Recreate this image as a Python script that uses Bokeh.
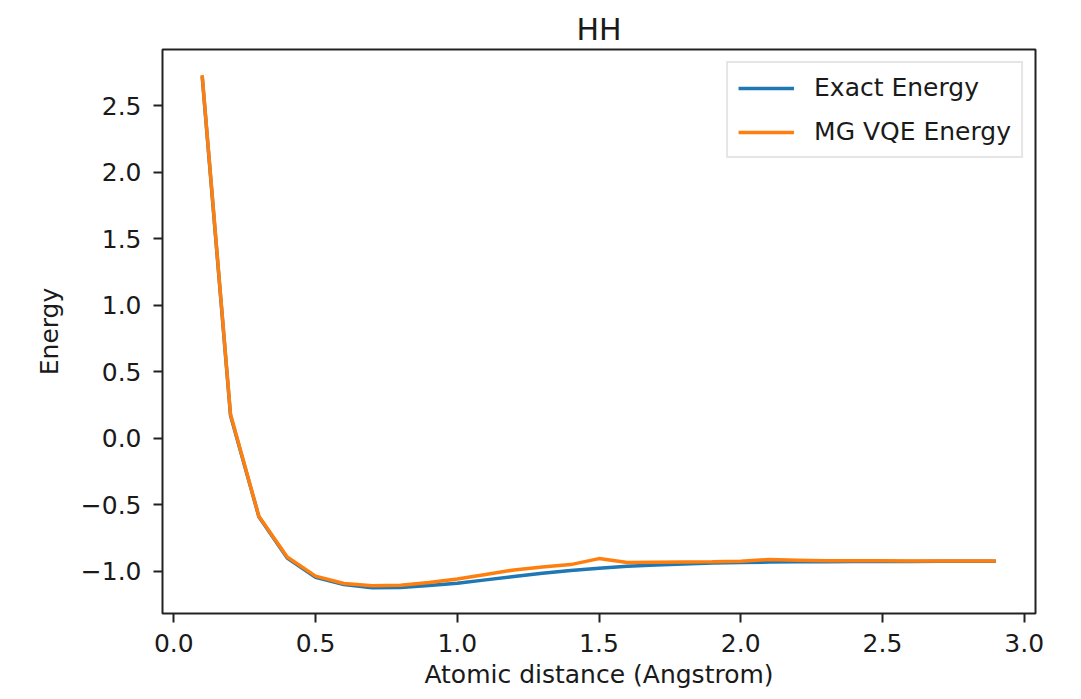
from bokeh.plotting import figure
from bokeh.embed import file_html
from bokeh.resources import INLINE
from bokeh.models import FixedTicker, CustomJSTickFormatter, Range1d

# Data
distance = [0.1, 0.2, 0.3, 0.4, 0.5, 0.6, 0.7, 0.8, 0.9, 1.0,
            1.1, 1.2, 1.3, 1.4, 1.5, 1.6, 1.7, 1.8, 1.9, 2.0,
            2.1, 2.2, 2.3, 2.4, 2.5, 2.6, 2.7, 2.8, 2.9]
exact_energy = [2.72, 0.17, -0.59, -0.90, -1.045, -1.10, -1.125, -1.122, -1.108, -1.09,
                -1.065, -1.04, -1.015, -0.995, -0.978, -0.963, -0.953, -0.945, -0.938, -0.934,
                -0.931, -0.929, -0.928, -0.927, -0.926, -0.926, -0.925, -0.925, -0.925]
vqe_energy = [2.73, 0.18, -0.587, -0.893, -1.037, -1.092, -1.11, -1.105, -1.085, -1.058,
              -1.025, -0.99, -0.968, -0.95, -0.905, -0.935, -0.932, -0.93, -0.928, -0.925,
              -0.912, -0.917, -0.922, -0.922, -0.922, -0.923, -0.923, -0.923, -0.923]
x_ticks = [0.0, 0.5, 1.0, 1.5, 2.0, 2.5, 3.0]
y_ticks = [-1.0, -0.5, 0.0, 0.5, 1.0, 1.5, 2.0, 2.5]
title_text = "HH"
x_label = "Atomic distance (Angstrom)"
y_label = "Energy"
series_names = ["Exact Energy", "MG VQE Energy"]

xmin, xmax = min(distance), max(distance)
ymin = min(min(exact_energy), min(vqe_energy))
ymax = max(max(exact_energy), max(vqe_energy))
xm = (xmax - xmin) * 0.05
ym = (ymax - ymin) * 0.05

FONT = "DejaVu Sans"
TXT = "#1a1a1a"

p = figure(width=1073, height=691, output_backend="svg", toolbar_location=None,
           x_range=Range1d(xmin - xm, xmax + xm), y_range=Range1d(ymin - ym, ymax + ym),
           min_border_left=162, min_border_right=38, min_border_top=49, min_border_bottom=74)

p.line(distance, exact_energy, line_color="#1f77b4", line_width=3.5, legend_label=series_names[0])
p.line(distance, vqe_energy, line_color="#ff7f0e", line_width=3.5, legend_label=series_names[1])

p.title.text = title_text
p.title.align = "center"
p.title.text_font = FONT
p.title.text_font_size = "30px"
p.title.text_font_style = "normal"
p.title.text_color = TXT
p.title.standoff = 6

p.xgrid.visible = False
p.ygrid.visible = False
p.outline_line_color = "#222222"
p.outline_line_width = 2
p.outline_line_alpha = 1.0

fmt = CustomJSTickFormatter(code="return tick.toFixed(1).replace('-', '\u2212');")
p.xaxis.ticker = FixedTicker(ticks=x_ticks)
p.yaxis.ticker = FixedTicker(ticks=y_ticks)
p.xaxis.formatter = fmt
p.yaxis.formatter = fmt
p.xaxis.axis_label = x_label
p.yaxis.axis_label = y_label

for ax in (p.xaxis[0], p.yaxis[0]):
    ax.axis_line_color = None
    ax.major_tick_line_color = "#222222"
    ax.major_tick_line_width = 2
    ax.major_tick_out = 9
    ax.major_tick_in = 0
    ax.minor_tick_line_color = None
    ax.major_label_text_font = FONT
    ax.major_label_text_font_size = "25px"
    ax.major_label_text_color = TXT
    ax.axis_label_text_font = FONT
    ax.axis_label_text_font_size = "25px"
    ax.axis_label_text_font_style = "normal"
    ax.axis_label_text_color = TXT

p.xaxis.major_label_standoff = 11
p.xaxis.axis_label_standoff = 5
p.yaxis.major_label_standoff = 12
p.yaxis.axis_label_standoff = 14

lg = p.legend[0]
lg.location = "top_right"
lg.margin = 12
lg.padding = 10
lg.spacing = 15
lg.glyph_width = 56
lg.glyph_height = 26
lg.label_height = 26
lg.label_standoff = 20
lg.label_text_font = FONT
lg.label_text_font_size = "25px"
lg.label_text_color = TXT
lg.border_line_color = "#cccccc"
lg.border_line_width = 2
lg.background_fill_alpha = 0.8

open("out.html", "w").write(file_html(p, INLINE))
